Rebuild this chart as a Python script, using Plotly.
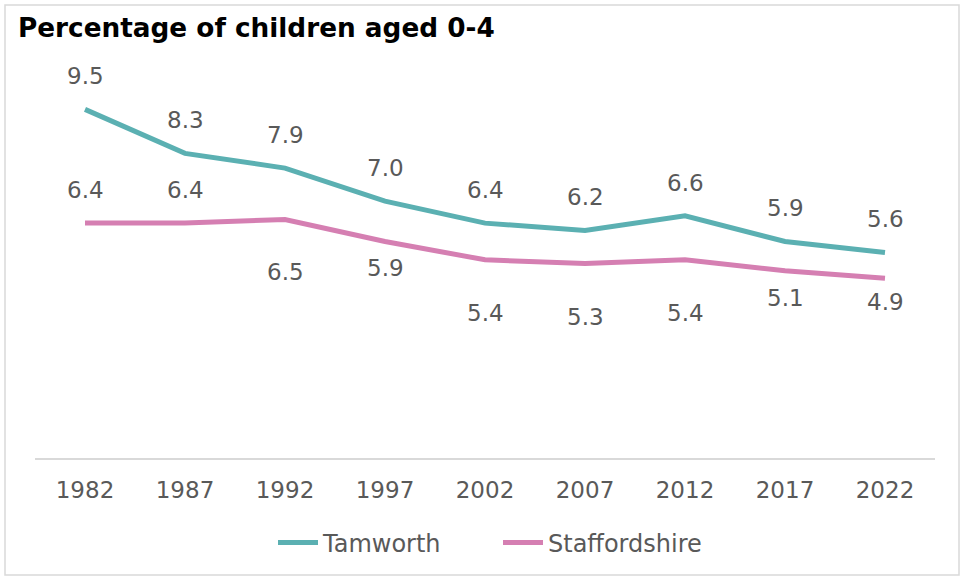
import plotly.graph_objects as go

years = ["1982", "1987", "1992", "1997", "2002", "2007", "2012", "2017", "2022"]
tamworth = [9.5, 8.3, 7.9, 7.0, 6.4, 6.2, 6.6, 5.9, 5.6]
staffordshire = [6.4, 6.4, 6.5, 5.9, 5.4, 5.3, 5.4, 5.1, 4.9]

# label offsets in pixels (layout only)
tam_shift = [33] * 9
staff_shift = [33, 33, -53, -27, -53, -54, -53, -27, -24]

TEAL = "#5BB0B2"
PINK = "#D57FB2"
GREY = "#595959"
FONT = "DejaVu Sans"

fig = go.Figure()
fig.add_trace(go.Scatter(x=years, y=tamworth, name="Tamworth", mode="lines",
                         line=dict(color=TEAL, width=5)))
fig.add_trace(go.Scatter(x=years, y=staffordshire, name="Staffordshire", mode="lines",
                         line=dict(color=PINK, width=5)))

anns = []
for i, (v, s) in enumerate(zip(tamworth, tam_shift)):
    anns.append(dict(x=i, y=v, xref="x", yref="y", text=f"{v:.1f}", showarrow=False, yshift=s,
                     font=dict(family=FONT, size=23, color=GREY)))
for i, (v, s) in enumerate(zip(staffordshire, staff_shift)):
    anns.append(dict(x=i, y=v, xref="x", yref="y", text=f"{v:.1f}", showarrow=False, yshift=s,
                     font=dict(family=FONT, size=23, color=GREY)))

L, R, T, B = 35, 29, 91, 122
W, H = 964, 580
pw, ph = W - L - R, H - T - B

def px2paper_x(px):
    return (px - L) / pw

def px2paper_y(py):
    return (H - B - py) / ph

fig.update_layout(
    width=W, height=H,
    margin=dict(l=L, r=R, t=T, b=B),
    paper_bgcolor="white", plot_bgcolor="white",
    title=dict(text="<b>Percentage of children aged 0-4</b>", x=18 / W, xanchor="left",
               y=1 - 28 / H, yanchor="middle",
               font=dict(family=FONT, size=26.3, color="black")),
    font=dict(family=FONT, color=GREY),
    showlegend=True,
    legend=dict(orientation="h", x=px2paper_x(498), xanchor="center", y=px2paper_y(543), yanchor="middle",
                font=dict(family=FONT, size=24, color=GREY), itemwidth=40, entrywidth=170),
    xaxis=dict(type="category", range=[-0.5, 8.5], showgrid=False, zeroline=False,
               showline=True, linecolor="#D9D9D9", linewidth=2, ticks="",
               tickfont=dict(family=FONT, size=23, color=GREY), ticklabelstandoff=10),
    yaxis=dict(range=[0, 10], visible=False),
    annotations=anns,
    shapes=[dict(type="rect", xref="paper", yref="paper",
                 x0=px2paper_x(5), x1=px2paper_x(959), y0=px2paper_y(575), y1=px2paper_y(5),
                 line=dict(color="#D9D9D9", width=1.5), fillcolor="rgba(0,0,0,0)", layer="below")],
)

fig.write_html("out.html", config={"displayModeBar": False},
               post_script="document.body.style.margin='0';")
